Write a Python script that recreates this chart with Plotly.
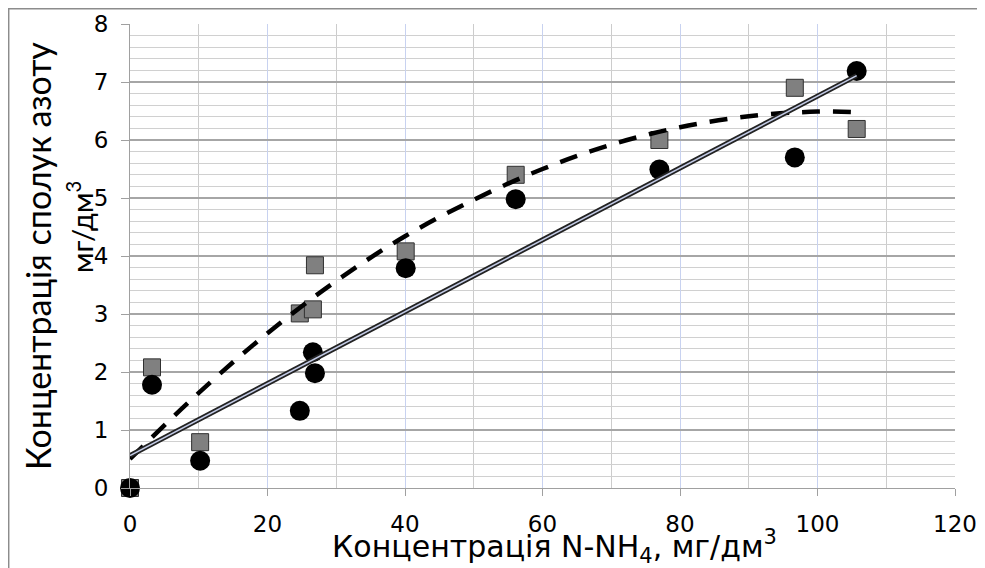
import plotly.graph_objects as go

# Data
x_nh4 = [0, 3.2, 10.2, 24.7, 26.6, 26.9, 40.1, 56.1, 77.0, 96.7, 105.7]
y_circles = [0, 1.78, 0.47, 1.33, 2.34, 1.98, 3.79, 4.98, 5.49, 5.70, 7.19]
x_squares = [0, 3.2, 10.2, 24.7, 26.6, 26.9, 40.1, 56.1, 77.0, 96.7, 105.7]
y_squares = [0, 2.08, 0.79, 3.01, 3.08, 3.84, 4.08, 5.40, 6.00, 6.90, 6.19]

# trend lines
x_lin = [0, 105.7]
y_lin = [0.56, 7.11]
x_poly = [0, 10, 20, 30, 40, 50, 60, 70, 80, 90, 100, 105.7]
y_poly = [0.50, 1.64, 2.67, 3.57, 4.34, 4.97, 5.50, 5.92, 6.22, 6.41, 6.49, 6.48]

x_ticks = [0, 20, 40, 60, 80, 100, 120]
y_ticks = [0, 1, 2, 3, 4, 5, 6, 7, 8]

WIDE = "'DejaVu Sans', sans-serif"
NARROW = "Lato, 'Open Sans', sans-serif"

fig = go.Figure()
fig.add_trace(go.Scatter(x=x_squares, y=y_squares, mode="markers", cliponaxis=False,
                         marker=dict(symbol="square", size=17, color="#808080",
                                     line=dict(color="#303030", width=1)),
                         showlegend=False))
fig.add_trace(go.Scatter(x=x_nh4, y=y_circles, mode="markers", cliponaxis=False,
                         marker=dict(symbol="circle", size=20, color="#000000",
                                     line=dict(width=0)),
                         showlegend=False))
fig.add_trace(go.Scatter(x=x_poly, y=y_poly, mode="lines", line_shape="spline",
                         line=dict(color="#000000", width=4.5, dash="18px,13px"),
                         showlegend=False))
fig.add_trace(go.Scatter(x=x_lin, y=y_lin, mode="lines",
                         line=dict(color="#222222", width=5), showlegend=False))
fig.add_trace(go.Scatter(x=x_lin, y=y_lin, mode="lines",
                         line=dict(color="#c3cbe6", width=1.5), showlegend=False))

# the page body has an 8px margin, so the figure starts at page (8, 8)
OFF = 8
W, H = 985 - OFF, 568 - OFF
L, T = 130 - OFF, 24 - OFF
R = W - (955 - OFF)
B = H - (488 - OFF)
pw, ph = W - L - R, H - T - B

def px(xp):
    # page pixel -> paper coordinate
    return (xp - OFF - L) / pw

def py(yp):
    return (H - B - (yp - OFF)) / ph

fig.update_layout(
    width=W, height=H,
    margin=dict(l=L, r=R, t=T, b=B, autoexpand=False),
    paper_bgcolor="white", plot_bgcolor="white",
    font=dict(family=WIDE, color="#000000"),
    xaxis=dict(range=[0, 120], tickvals=x_ticks, ticks="outside", ticklen=7,
               tickcolor="#a0a0a0", showline=True, linecolor="#a0a0a0", linewidth=1,
               showgrid=True, gridcolor="#c8d2f0", gridwidth=1, zeroline=False,
               automargin=False,
               tickfont=dict(size=23, family=WIDE), ticklabelstandoff=8,
               minor=dict(dtick=10, tick0=0, showgrid=True, gridcolor="#cccccc",
                          gridwidth=1, ticks="")),
    yaxis=dict(range=[0, 8], tickvals=y_ticks, ticks="outside", ticklen=8,
               tickcolor="#a0a0a0", showline=True, linecolor="#a0a0a0", linewidth=1,
               showgrid=True, gridcolor="#a6a6a6", gridwidth=1.5, zeroline=False,
               automargin=False,
               tickfont=dict(size=23, family=WIDE), ticklabelstandoff=8,
               minor=dict(dtick=0.2, tick0=0, showgrid=True, gridcolor="#d0d0d0",
                          gridwidth=1, ticks="")),
    shapes=[dict(type="rect", xref="paper", yref="paper",
                 x0=px(8.7), x1=px(1000), y0=py(8.7), y1=py(600),
                 line=dict(color="#8c8c8c", width=1.5), fillcolor="rgba(0,0,0,0)",
                 layer="below")],
    annotations=[
        dict(xref="paper", yref="paper", x=px(554), y=py(546),
             text="Концентрація N-NH<sub>4</sub>, мг/дм<sup>3</sup>",
             showarrow=False, xanchor="center", yanchor="middle",
             font=dict(size=30, family=WIDE, color="#000000")),
        dict(xref="paper", yref="paper", x=px(37), y=py(256),
             text="Концентрація сполук азоту", textangle=-90,
             showarrow=False, xanchor="center", yanchor="middle",
             font=dict(size=34, family=NARROW, color="#000000")),
        dict(xref="paper", yref="paper", x=px(80), y=py(227),
             text="мг/дм<sup>3</sup>", textangle=-90,
             showarrow=False, xanchor="center", yanchor="middle",
             font=dict(size=29, family=NARROW, color="#000000")),
    ],
)

fig.write_html("out.html")
